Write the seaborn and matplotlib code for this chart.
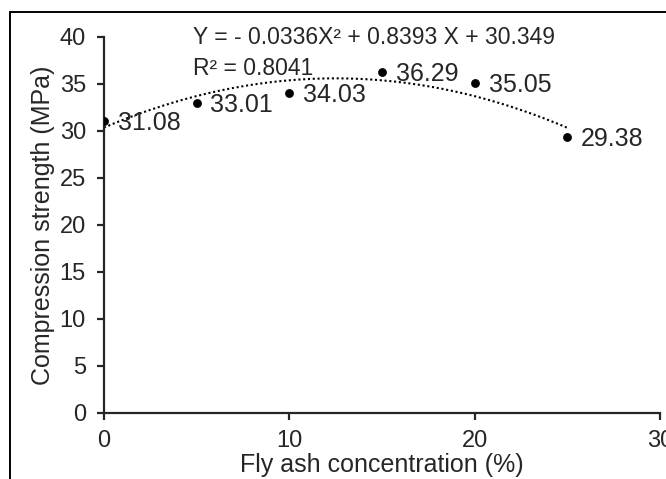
import matplotlib
matplotlib.use("Agg")
import matplotlib.pyplot as plt
import numpy as np
import pandas as pd
import seaborn as sns
from matplotlib.patches import Rectangle

# values
fly_ash = [0, 5, 10, 15, 20, 25]
strength = [31.08, 33.01, 34.03, 36.29, 35.05, 29.38]
point_labels = ["31.08", "33.01", "34.03", "36.29", "35.05", "29.38"]
equation = "Y = - 0.0336X\u00b2 + 0.8393 X + 30.349"
r_squared = "R\u00b2 = 0.8041"

df = pd.DataFrame({"fly_ash": fly_ash, "strength": strength})

sns.set_style("ticks")
plt.rcParams["font.family"] = ["Liberation Sans", "DejaVu Sans"]
plt.rcParams["axes.linewidth"] = 1.6
plt.rcParams["xtick.major.width"] = 1.6
plt.rcParams["ytick.major.width"] = 1.6

fig = plt.figure(figsize=(6.66, 4.79), dpi=100)
ax = fig.add_axes([0.156, 0.138, 0.835, 0.785])

# frame around the whole chart area
fig.patches.append(Rectangle((0.015, -0.05), 1.1, 1.025, transform=fig.transFigure,
                             fill=False, edgecolor="black", linewidth=1.4))

# quadratic trendline (dotted)
coef = np.polyfit(df["fly_ash"], df["strength"], 2)
xs = np.linspace(0, 25, 200)
trend = pd.DataFrame({"x": xs, "y": np.polyval(coef, xs)})
sns.lineplot(data=trend, x="x", y="y", ax=ax, color="black", linewidth=1.5,
             dashes=False, linestyle=(0, (1, 1.3)))

sns.scatterplot(data=df, x="fly_ash", y="strength", ax=ax, color="black", s=34,
                edgecolor="black", zorder=3)

for x, y, lab in zip(fly_ash, strength, point_labels):
    ax.annotate(lab, (x, y), xytext=(10, -1.5), textcoords="offset points",
                va="center", ha="left", fontsize=18)

ax.text(0.16, 0.998, equation, transform=ax.transAxes, fontsize=16.5, va="center")
ax.text(0.16, 0.917, r_squared, transform=ax.transAxes, fontsize=16.5, va="center")

ax.set_xlim(0, 30)
ax.set_ylim(0, 40)
ax.set_xticks([0, 10, 20, 30])
ax.set_yticks(range(0, 41, 5))
ax.tick_params(labelsize=17, length=5)
ax.tick_params(axis="x", pad=7)
ax.tick_params(axis="y", pad=8)
ax.set_xlabel("Fly ash concentration (%)", fontsize=18, labelpad=1)
ax.set_ylabel("Compression strength (MPa)", fontsize=18, labelpad=3)
sns.despine(ax=ax)
ax.spines["left"].set_position(("data", 0))

fig.savefig("out.png", dpi=100)
